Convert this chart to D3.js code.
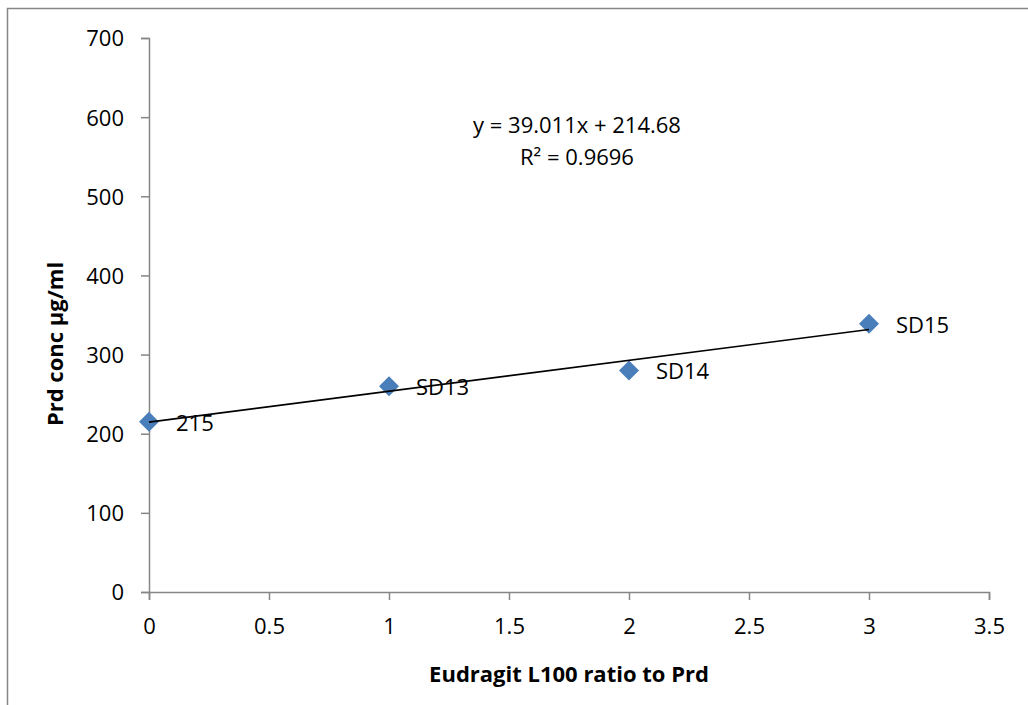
<!DOCTYPE html>
<html>
<head>
<meta charset="utf-8">
<script src="https://cdn.jsdelivr.net/npm/d3@7"></script>
<style>
  body { margin: 0; background: #fff; }
  svg { display: block; font-family: "Open Sans", sans-serif; }
</style>
</head>
<body>
<svg id="chart"></svg>
<script>
// data
var ratios = [0, 1, 2, 3];
var concs = [215, 260, 280, 339];
var pointLabels = ["215", "SD13", "SD14", "SD15"];
var xTicks = [0, 0.5, 1, 1.5, 2, 2.5, 3, 3.5];
var yTicks = [0, 100, 200, 300, 400, 500, 600, 700];
var trendSlope = 39.011;
var trendIntercept = 214.68;
var trendText = ["y = 39.011x + 214.68", "R\u00b2 = 0.9696"];

var width = 1028, height = 705;
var svg = d3.select("#chart").attr("width", width).attr("height", height);

var plotLeft = 149, plotRight = 989, plotTop = 38, plotBottom = 592;

var x = d3.scaleLinear().domain([0, 3.5]).range([plotLeft, plotRight]);
var y = d3.scaleLinear().domain([0, 700]).range([plotBottom, plotTop]);

// chart frame (only left/top edges show in the crop)
svg.append("rect")
    .attr("x", 7.5).attr("y", 8.5)
    .attr("width", 1040).attr("height", 720)
    .attr("fill", "none")
    .attr("stroke", "#868686")
    .attr("stroke-width", 1.5);

var xAxis = svg.append("g")
    .attr("transform", "translate(0," + plotBottom + ")")
    .call(d3.axisBottom(x).tickValues(xTicks).tickSize(8).tickPadding(18).tickFormat(d3.format("")));
var yAxis = svg.append("g")
    .attr("transform", "translate(" + plotLeft + ",0)")
    .call(d3.axisLeft(y).tickValues(yTicks).tickSize(8).tickPadding(17).tickFormat(d3.format("")));

[xAxis, yAxis].forEach(function (ax) {
    ax.select(".domain").attr("stroke", "#868686").attr("stroke-width", 1.5);
    ax.selectAll(".tick line").attr("stroke", "#868686").attr("stroke-width", 1.5);
    ax.selectAll(".tick text")
        .attr("fill", "#000")
        .attr("font-size", "22px")
        .attr("font-family", "Open Sans, sans-serif");
});
yAxis.selectAll(".tick text").attr("dy", "0.36em");

// markers
var pts = ratios.map(function (r, i) { return {x: r, y: concs[i], label: pointLabels[i]}; });

svg.selectAll("path.pt")
    .data(pts)
    .enter().append("path")
    .attr("class", "pt")
    .attr("d", d3.symbol().type(d3.symbolSquare).size(200))
    .attr("transform", function (d) { return "translate(" + x(d.x) + "," + y(d.y) + ") rotate(45)"; })
    .attr("fill", "#4a7ebb");

// trendline over markers
svg.append("line")
    .attr("x1", x(0)).attr("y1", y(trendIntercept))
    .attr("x2", x(3)).attr("y2", y(trendIntercept + trendSlope * 3))
    .attr("stroke", "#000")
    .attr("stroke-width", 1.6);

svg.selectAll("text.lbl")
    .data(pts)
    .enter().append("text")
    .attr("class", "lbl")
    .attr("x", function (d) { return x(d.x) + 27; })
    .attr("y", function (d) { return y(d.y) + 9; })
    .attr("font-size", "22px")
    .text(function (d) { return d.label; });

// trend equation
svg.selectAll("text.eq")
    .data(trendText)
    .enter().append("text")
    .attr("class", "eq")
    .attr("x", 577)
    .attr("y", function (d, i) { return 133 + i * 32; })
    .attr("text-anchor", "middle")
    .attr("font-size", "22px")
    .text(function (d) { return d; });

// axis titles
svg.append("text")
    .attr("x", (plotLeft + plotRight) / 2)
    .attr("y", 682)
    .attr("text-anchor", "middle")
    .attr("font-weight", "bold")
    .attr("font-size", "22px")
    .text("Eudragit L100 ratio to Prd");

svg.append("text")
    .attr("transform", "translate(63,344) rotate(-90)")
    .attr("text-anchor", "middle")
    .attr("font-weight", "bold")
    .attr("font-size", "22px")
    .text("Prd conc \u03bcg/ml");
</script>
</body>
</html>
